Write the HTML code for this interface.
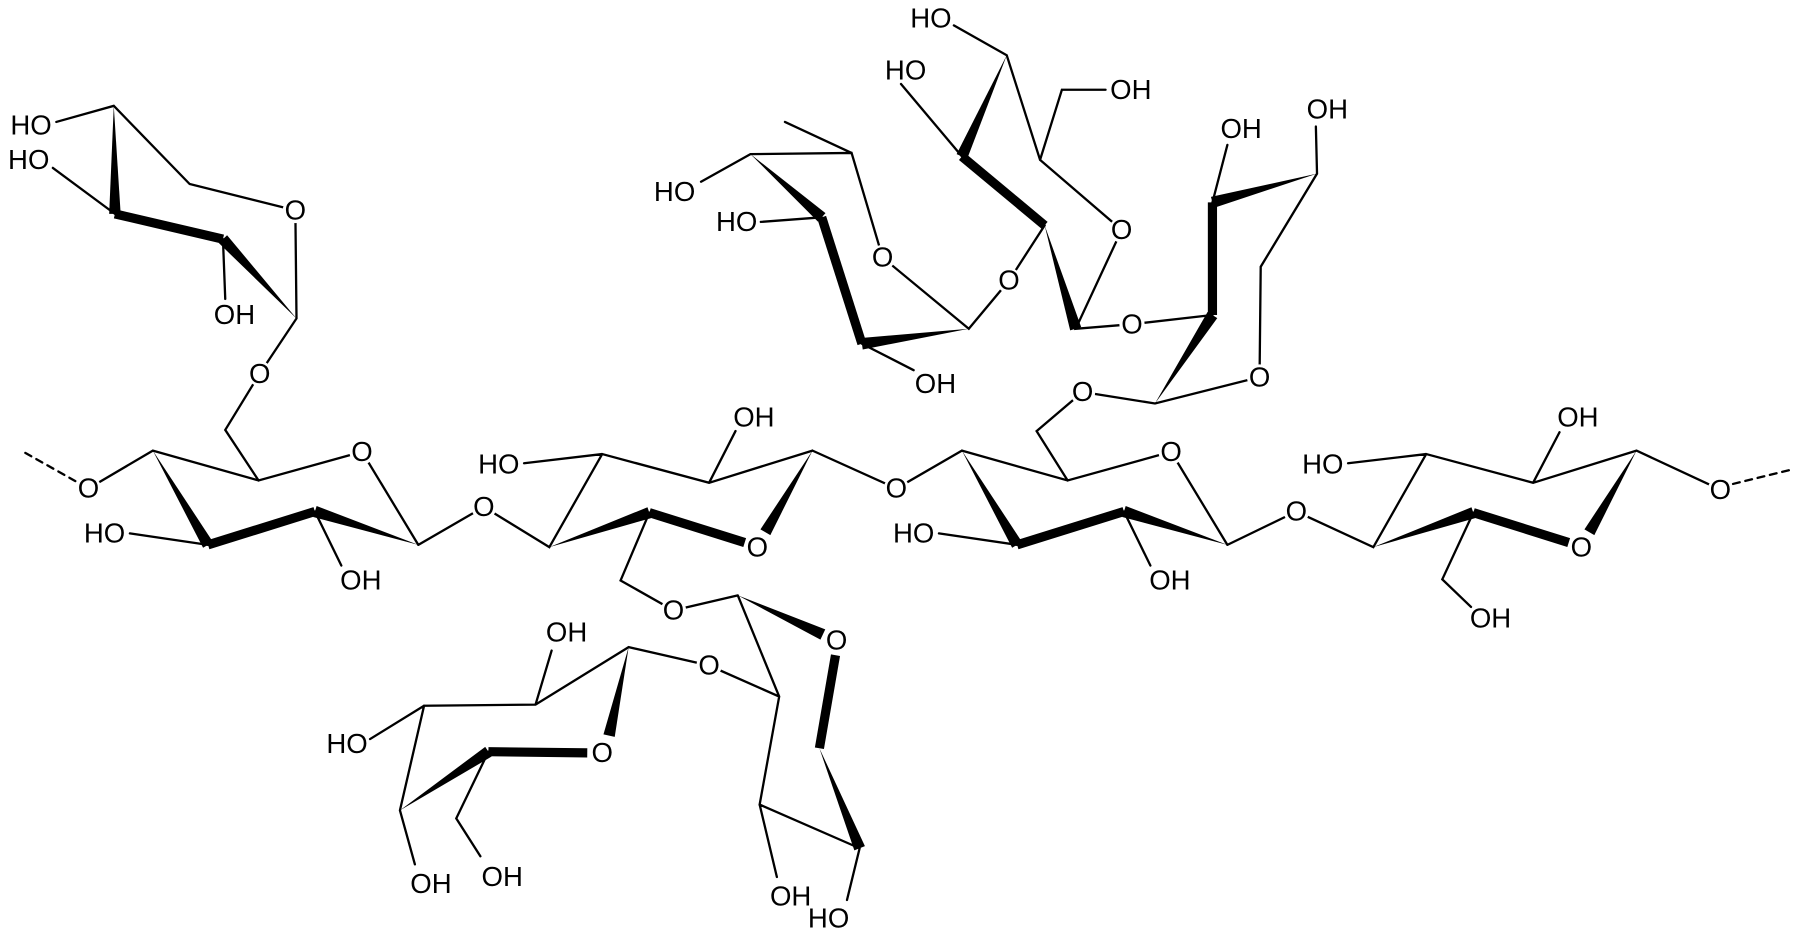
<!DOCTYPE html>
<html><head><meta charset="utf-8"><style>
html,body{margin:0;padding:0;background:#fff;}
svg{display:block;}
text{font-family:"Liberation Sans",sans-serif;font-size:24px;fill:#000;}
</style></head><body>
<svg width="1802" height="938" viewBox="0 0 1568 816" xmlns="http://www.w3.org/2000/svg">
<g stroke="#000" stroke-width="2" fill="none" stroke-linecap="round">
<line x1="22" y1="394" x2="70" y2="421" stroke-dasharray="6,5"/>
<line x1="1508" y1="421" x2="1561" y2="408" stroke-dasharray="6,5"/>
<path d="M77,425L133,392L225,418L315,393L364,474M181,474L113,464M274,445L297,492M225,418L196,374L226,325L258,277L257,183L165,160L99,92L49,106M100,186L46,146M194,208L196,260M364,474L421,441L478,476L524,395L617,420L707,392M524,395L456,403M617,420L640,375M707,392L780,425L837,392M565,446L540,505L586,531L642,518M642,518L678,606L661,700L748,738M661,700L676,763M748,738L737,783M678,606L617,579L547,563L466,613L369,614L348,705M466,613L480,566M369,614L322,643M348,705L361,752M425,654L397,712L418,745M837,392L929,418L1019,393L1068,474M885,474L817,464M978,445L1001,492M929,418L902,375L942,341L1005,351L1096,328L1097,232L1146,151L1145,110M1055,176L1068,126M1055,274L985,282L936,286L976,200L905,139L876,48L830,22M837,136L784,73M905,139L924,78L962,78M909,196L878,244L843,286L768,224L741,133L653,134L610,158M741,133L683,106M715,189L662,193M750,299L795,322M1068,474L1128,445L1195,476L1241,395L1334,420L1424,392L1497,426M1241,395L1173,403M1334,420L1357,376M1282,446L1255,504L1280,528"/>
</g>
<g stroke="#000" stroke-width="8" stroke-linecap="butt">
<line x1="181" y1="474" x2="274" y2="445"/>
<line x1="100" y1="186" x2="194" y2="208"/>
<line x1="885" y1="474" x2="978" y2="445"/>
<line x1="648" y1="472" x2="565" y2="446"/>
<line x1="1365" y1="472" x2="1282" y2="446"/>
<line x1="1055" y1="176" x2="1055" y2="274"/>
<line x1="837" y1="136" x2="909" y2="196"/>
<line x1="715" y1="189" x2="750" y2="299"/>
<line x1="727" y1="570" x2="713" y2="651"/>
<line x1="425" y1="654" x2="511" y2="655"/>
</g>
<g fill="#000">
<polygon points="99,92 95,186 105,186"/>
<polygon points="258,277 197.6,204.6 190.4,211.4"/>
<polygon points="133,392 176.7,476.5 185.3,471.5"/>
<polygon points="364,474 275.5,440.2 272.5,449.8"/>
<polygon points="707,392 661.7,460.5 670.3,465.5"/>
<polygon points="478,476 566.6,450.7 563.4,441.3"/>
<polygon points="1424,392 1378.7,460.5 1387.3,465.5"/>
<polygon points="1195,476 1283.6,450.7 1280.4,441.3"/>
<polygon points="837,392 880.7,476.5 889.3,471.5"/>
<polygon points="1068,474 979.5,440.2 976.5,449.8"/>
<polygon points="1146,151 1053.7,171.2 1056.3,180.8"/>
<polygon points="1005,351 1059.2,276.7 1050.8,271.3"/>
<polygon points="876,48 832.4,134 841.6,138"/>
<polygon points="909,196 931.2,287.4 940.8,284.6"/>
<polygon points="653,134 711.7,192.7 718.3,185.3"/>
<polygon points="843,286 749.3,294 750.7,304"/>
<polygon points="642,518 713.9,556.5 718.1,547.5"/>
<polygon points="713,651 743.4,739.9 752.6,736.1"/>
<polygon points="547,563 525.1,638.9 534.9,641.1"/>
<polygon points="348,705 427.8,658.2 422.2,649.8"/>
</g>
<g fill="#fff">
<circle cx="77" cy="425" r="11"/><circle cx="257" cy="183" r="11"/><circle cx="226" cy="325" r="11"/><circle cx="315" cy="393" r="11"/><circle cx="421" cy="441" r="11"/><circle cx="659" cy="476" r="11"/><circle cx="780" cy="425" r="11"/><circle cx="586" cy="531" r="11"/><circle cx="728" cy="557" r="11"/><circle cx="617" cy="579" r="11"/><circle cx="524" cy="655" r="11"/><circle cx="1019" cy="393" r="11"/><circle cx="942" cy="341" r="11"/><circle cx="1128" cy="445" r="11"/><circle cx="1096" cy="328" r="11"/><circle cx="985" cy="282" r="11"/><circle cx="976" cy="200" r="11"/><circle cx="878" cy="244" r="11"/><circle cx="768" cy="224" r="11"/><circle cx="1376" cy="476" r="11"/><circle cx="1497" cy="426" r="11"/>
</g>
<g text-anchor="middle">
<text x="77" y="433">O</text><text x="257" y="191">O</text><text x="226" y="333">O</text><text x="315" y="401">O</text><text x="421" y="449">O</text><text x="659" y="484">O</text><text x="780" y="433">O</text><text x="586" y="539">O</text><text x="728" y="565">O</text><text x="617" y="587">O</text><text x="524" y="663">O</text><text x="1019" y="401">O</text><text x="942" y="349">O</text><text x="1128" y="453">O</text><text x="1096" y="336">O</text><text x="985" y="290">O</text><text x="976" y="208">O</text><text x="878" y="252">O</text><text x="768" y="232">O</text><text x="1376" y="484">O</text><text x="1497" y="434">O</text>
</g>
<g text-anchor="end">
<text x="45" y="117">HO</text><text x="43" y="147">HO</text><text x="109" y="472">HO</text><text x="452" y="412">HO</text><text x="739" y="807">HO</text><text x="320" y="655">HO</text><text x="813" y="472">HO</text><text x="828" y="24">HO</text><text x="806" y="69">HO</text><text x="605" y="175">HO</text><text x="659" y="201">HO</text><text x="1169" y="412">HO</text>
</g>
<g text-anchor="start">
<text x="186" y="282">OH</text><text x="296" y="513">OH</text><text x="638" y="371">OH</text><text x="670" y="788">OH</text><text x="475" y="558">OH</text><text x="357" y="777">OH</text><text x="419" y="771">OH</text><text x="1000" y="513">OH</text><text x="1137" y="103">OH</text><text x="1062" y="120">OH</text><text x="966" y="86">OH</text><text x="796" y="342">OH</text><text x="1355" y="371">OH</text><text x="1279" y="546">OH</text>
</g>
</svg>
</body></html>
